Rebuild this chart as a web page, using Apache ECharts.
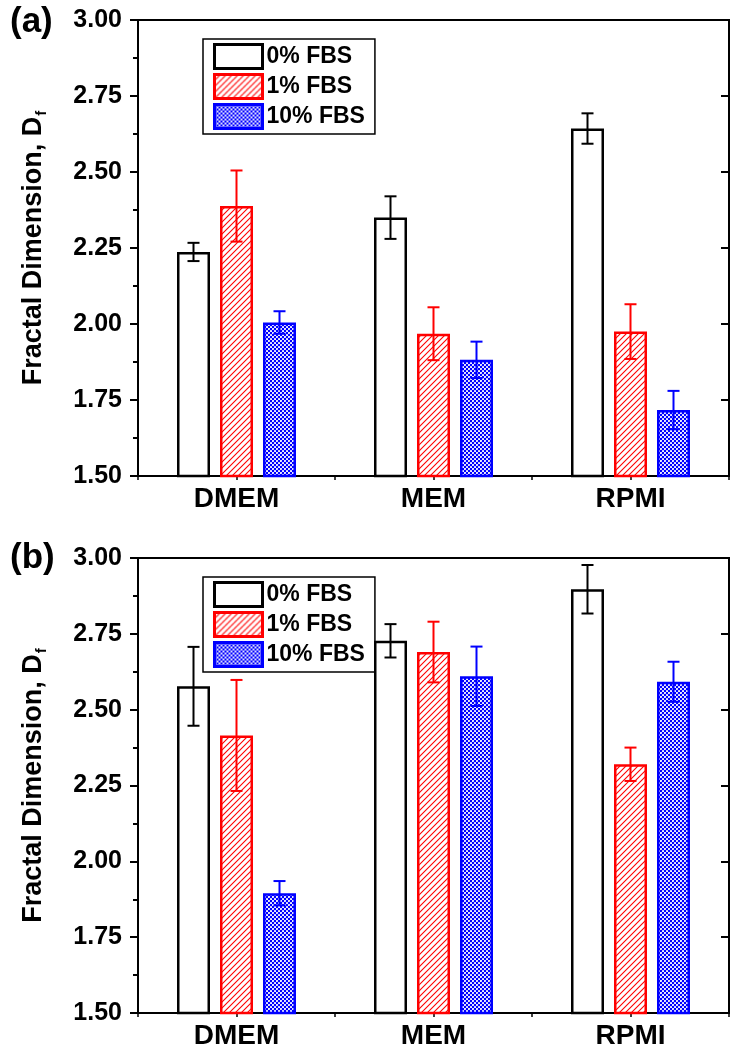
<!DOCTYPE html>
<html>
<head>
<meta charset="utf-8">
<script src="https://cdn.jsdelivr.net/npm/echarts@6/dist/echarts.min.js"></script>
<style>
html,body{margin:0;padding:0;background:#fff;}
#c{width:736px;height:1050px;}
</style>
</head>
<body>
<div id="c"></div>
<script>
// ---------- DATA ----------
const categories = ['DMEM', 'MEM', 'RPMI'];
const seriesNames = ['0% FBS', '1% FBS', '10% FBS'];
const yTicks = [1.50, 1.75, 2.00, 2.25, 2.50, 2.75, 3.00];

// Panel (a)
const a_fbs0 = [2.237, 2.350, 2.643];
const a_fbs0_err = [0.030, 0.070, 0.050];
const a_fbs1 = [2.388, 1.968, 1.975];
const a_fbs1_err = [0.117, 0.087, 0.090];
const a_fbs10 = [2.005, 1.882, 1.717];
const a_fbs10_err = [0.037, 0.060, 0.063];

// Panel (b)
const b_fbs0 = [2.577, 2.727, 2.897];
const b_fbs0_err = [0.130, 0.055, 0.080];
const b_fbs1 = [2.415, 2.690, 2.320];
const b_fbs1_err = [0.183, 0.100, 0.055];
const b_fbs10 = [1.895, 2.610, 2.592];
const b_fbs10_err = [0.040, 0.098, 0.066];

const panelLabels = ['(a)', '(b)'];
const yName = 'Fractal Dimension, D';
const ySub = 'f';

// ---------- PATTERNS ----------
function hatchPattern() {
  const c = document.createElement('canvas');
  c.width = 6; c.height = 6;
  const g = c.getContext('2d');
  g.fillStyle = '#fff'; g.fillRect(0, 0, 6, 6);
  g.strokeStyle = '#ff0000'; g.lineWidth = 1.1;
  g.beginPath();
  g.moveTo(-1, 7); g.lineTo(7, -1);
  g.moveTo(-1, 1); g.lineTo(1, -1);
  g.moveTo(5, 7); g.lineTo(7, 5);
  g.stroke();
  return { image: c, repeat: 'repeat' };
}
function dotPattern() {
  const c = document.createElement('canvas');
  c.width = 4; c.height = 4;
  const g = c.getContext('2d');
  g.fillStyle = '#0000ff'; g.fillRect(0, 0, 4, 4);
  g.fillStyle = '#ffffff';
  g.beginPath(); g.arc(1, 1, 1.05, 0, Math.PI * 2); g.fill();
  g.beginPath(); g.arc(3, 3, 1.05, 0, Math.PI * 2); g.fill();
  return { image: c, repeat: 'repeat' };
}
const fills = ['#ffffff', hatchPattern(), dotPattern()];
const edges = ['#000000', '#ff0000', '#0000ff'];

// ---------- LAYOUT ----------
const FONT = 'Liberation Sans, Arial, sans-serif';
const grids = [
  { left: 138, top: 20, width: 591, height: 456 },
  { left: 138, top: 558, width: 591, height: 456 }
];
const BAR_W = 33, BAR_GAP = 10;

const panels = [
  { vals: [a_fbs0, a_fbs1, a_fbs10], errs: [a_fbs0_err, a_fbs1_err, a_fbs10_err] },
  { vals: [b_fbs0, b_fbs1, b_fbs10], errs: [b_fbs0_err, b_fbs1_err, b_fbs10_err] }
];

const option = {
  animation: false,
  backgroundColor: '#fff',
  textStyle: { fontFamily: FONT },
  title: panelLabels.map((t, i) => ({
    text: t, left: 5, top: i === 0 ? 0 : 536,
    textStyle: { fontFamily: FONT, fontSize: 35, fontWeight: 'bold', color: '#000' }
  })),
  legend: grids.map((g, i) => ({
    orient: 'vertical',
    left: 203, top: g.top + 19,
    itemWidth: 48, itemHeight: 24, itemGap: 3,
    padding: [4, 10, 4, 10],
    borderColor: '#000', borderWidth: 1.5,
    icon: 'rect',
    selectedMode: false,
    textStyle: { fontFamily: FONT, fontSize: 23, fontWeight: 'bold', color: '#000', padding: [0, 0, 0, -1] },
    data: seriesNames.map((n, k) => ({
      name: n,
      itemStyle: { color: fills[k], borderColor: edges[k], borderWidth: 3 }
    }))
  })),
  grid: grids.map(g => Object.assign({ show: true, borderColor: '#000', borderWidth: 2, backgroundColor: 'transparent', containLabel: false }, g)),
  xAxis: [],
  yAxis: [],
  series: []
};

grids.forEach((g, gi) => {
  // bottom category axis (ticks at boundaries)
  option.xAxis.push({
    type: 'category', data: categories, gridIndex: gi, position: 'bottom',
    axisLine: { lineStyle: { color: '#000', width: 2 } },
    axisTick: { show: true, length: 4, lineStyle: { color: '#000', width: 1.5 } },
    axisLabel: { fontFamily: FONT, fontSize: 28, fontWeight: 'bold', color: '#000', margin: 9 },
    splitLine: { show: false }
  });
  // second category axis: small ticks at category centres
  option.xAxis.push({
    type: 'category', data: categories, gridIndex: gi, position: 'bottom',
    axisLine: { show: false },
    axisTick: { show: true, alignWithLabel: true, length: 4, lineStyle: { color: '#000', width: 1.5 } },
    axisLabel: { show: false },
    splitLine: { show: false }
  });
  // left value axis
  option.yAxis.push({
    type: 'value', gridIndex: gi, position: 'left',
    min: 1.5, max: 3.0, interval: 0.25,
    name: yName + '{s|' + ySub + '}',
    nameLocation: 'middle', nameRotate: 90, nameGap: 89,
    nameTextStyle: {
      fontFamily: FONT, fontSize: 27, fontWeight: 'bold', color: '#000', lineHeight: 30,
      rich: { s: { fontFamily: FONT, fontSize: 15, fontWeight: 'bold', color: '#000', verticalAlign: 'bottom', lineHeight: 15, padding: [12, 0, 0, 1] } }
    },
    axisLine: { show: true, lineStyle: { color: '#000', width: 2 } },
    axisTick: { show: true, inside: false, length: 8, lineStyle: { color: '#000', width: 2 } },
    minorTick: { show: true, splitNumber: 2, length: 5, lineStyle: { color: '#000', width: 2 } },
    axisLabel: { fontFamily: FONT, fontSize: 25, fontWeight: 'bold', color: '#000', margin: 16,
      formatter: v => (yTicks.indexOf(Math.round(v * 100) / 100) >= 0 ? v.toFixed(2) : '') },
    splitLine: { show: false }
  });
  // right mirror axis (ticks inward)
  option.yAxis.push({
    type: 'value', gridIndex: gi, position: 'right',
    min: 1.5, max: 3.0, interval: 0.25,
    axisLine: { show: true, lineStyle: { color: '#000', width: 2 } },
    axisTick: { show: true, inside: true, length: 8, lineStyle: { color: '#000', width: 2 } },
    minorTick: { show: false },
    axisLabel: { show: false },
    splitLine: { show: false }
  });
});

panels.forEach((p, gi) => {
  const yIdx = gi * 2;
  const xIdx = gi * 2;
  p.vals.forEach((vals, k) => {
    option.series.push({
      type: 'bar', name: seriesNames[k],
      xAxisIndex: xIdx, yAxisIndex: yIdx,
      data: vals,
      barWidth: BAR_W, barGap: (BAR_GAP / BAR_W * 100) + '%',
      itemStyle: { color: fills[k], borderColor: edges[k], borderWidth: 2.5 },
      z: 2
    });
  });
  p.vals.forEach((vals, k) => {
    const offset = (k - 1) * (BAR_W + BAR_GAP);
    const color = edges[k];
    option.series.push({
      type: 'custom',
      name: seriesNames[k] + ' err',
      xAxisIndex: xIdx, yAxisIndex: yIdx,
      data: vals.map((v, i) => [i, v, p.errs[k][i]]),
      z: 5,
      silent: true,
      renderItem: (params, api) => {
        const i = api.value(0), v = api.value(1), e = api.value(2);
        const hi = api.coord([i, v + e]);
        const lo = api.coord([i, v - e]);
        const x = hi[0] + offset;
        const cap = 6;
        const st = { stroke: color, lineWidth: 2 };
        return {
          type: 'group',
          children: [
            { type: 'line', shape: { x1: x, y1: hi[1], x2: x, y2: lo[1] }, style: st },
            { type: 'line', shape: { x1: x - cap, y1: hi[1], x2: x + cap, y2: hi[1] }, style: st },
            { type: 'line', shape: { x1: x - cap, y1: lo[1], x2: x + cap, y2: lo[1] }, style: st }
          ]
        };
      }
    });
  });
});

const chart = echarts.init(document.getElementById('c'), null, { renderer: 'canvas' });
chart.setOption(option);
</script>
</body>
</html>
